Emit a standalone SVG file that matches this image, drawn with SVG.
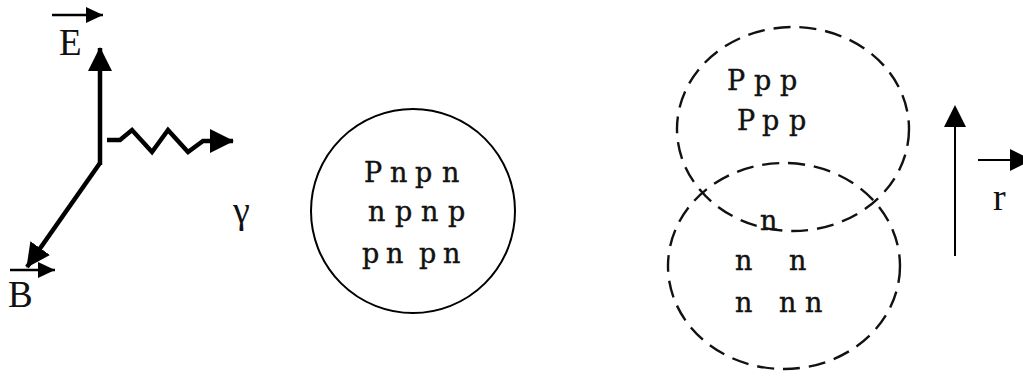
<svg xmlns="http://www.w3.org/2000/svg" width="1023" height="376" viewBox="0 0 1023 376">
<style>
.t{font-family:"Liberation Serif","Times New Roman",serif;fill:#111}
.nuc{font-family:"DejaVu Serif",serif;font-size:27px;fill:#111;stroke:#111;stroke-width:0.4}
.thick{stroke:#000;stroke-width:4.5;fill:none;stroke-linejoin:miter}
.thin{stroke:#000;stroke-width:2;fill:none}
.over{stroke:#000;stroke-width:2.5;fill:none}
.dash{stroke:#111;stroke-width:2.4;fill:none;stroke-dasharray:17 9}
</style>
<defs>
<marker id="hb" markerUnits="userSpaceOnUse" markerWidth="24" markerHeight="24" refX="23" refY="12" orient="auto"><path d="M0,0 L24,12 L0,24 z" fill="#000"/></marker>
<marker id="hs" markerUnits="userSpaceOnUse" markerWidth="17" markerHeight="16" refX="17" refY="8" orient="auto"><path d="M0,0 L17,8 L0,16 z" fill="#000"/></marker>
<marker id="hm" markerUnits="userSpaceOnUse" markerWidth="22" markerHeight="22" refX="20" refY="11" orient="auto"><path d="M0,0 L22,11 L0,22 z" fill="#000"/></marker>
</defs>
<g id="connectors">
<line class="thick" x1="100" y1="165" x2="100" y2="48" marker-end="url(#hb)"/>
<line class="thick" x1="100" y1="163" x2="27" y2="267" marker-end="url(#hb)"/>
<polyline class="thick" points="107,140 120,140 132,130 152,152 168,130 188,152 203,141 233,141" marker-end="url(#hb)"/>
<line class="over" x1="52" y1="15" x2="103" y2="15" marker-end="url(#hs)"/>
<line class="over" x1="10" y1="270" x2="55" y2="270" marker-end="url(#hs)"/>
<line class="thin" x1="955" y1="256" x2="955" y2="107" marker-end="url(#hm)"/>
<line class="thin" x1="978" y1="160" x2="1030" y2="160" marker-end="url(#hm)"/>
</g>
<g id="label-E"><text class="t" x="59" y="55" font-size="37">E</text></g>
<g id="label-B"><text class="t" x="8" y="307" font-size="37">B</text></g>
<g id="label-gamma"><text class="t" x="233" y="223" font-size="38">γ</text></g>
<g id="label-r"><text class="t" x="993" y="210" font-size="38">r</text></g>
<g id="nucleus">
<circle cx="413" cy="211" r="102" class="thin"/>
<text class="nuc" y="182"><tspan x="364">P</tspan><tspan x="390">n</tspan><tspan x="415">p</tspan><tspan x="442">n</tspan></text>
<text class="nuc" y="221"><tspan x="368">n</tspan><tspan x="395">p</tspan><tspan x="421">n</tspan><tspan x="448">p</tspan></text>
<text class="nuc" y="263"><tspan x="362">p</tspan><tspan x="386">n</tspan><tspan x="419">p</tspan><tspan x="443">n</tspan></text>
</g>
<g id="proton-cloud">
<ellipse cx="793" cy="129" rx="116" ry="102" class="dash"/>
<text class="nuc" y="90"><tspan x="727">P</tspan><tspan x="754">p</tspan><tspan x="780">p</tspan></text>
<text class="nuc" y="130"><tspan x="737">P</tspan><tspan x="762">p</tspan><tspan x="789">p</tspan></text>
</g>
<g id="neutron-cloud">
<ellipse cx="784" cy="266" rx="116" ry="103" class="dash"/>
<text class="nuc" y="230"><tspan x="760">n</tspan></text>
<text class="nuc" y="270"><tspan x="735">n</tspan><tspan x="789">n</tspan></text>
<text class="nuc" y="312"><tspan x="735">n</tspan><tspan x="779">n</tspan><tspan x="805">n</tspan></text>
</g>
</svg>
